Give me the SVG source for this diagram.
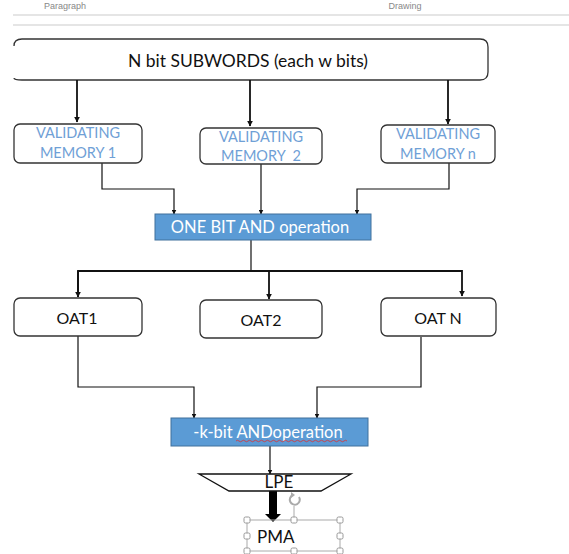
<svg xmlns="http://www.w3.org/2000/svg" width="569" height="554" viewBox="0 0 569 554">
<style>
.box{fill:#fff;stroke:#333;stroke-width:1.3}
.blue{fill:#5b9bd5;stroke:#41719c;stroke-width:1}
.t{font-family:Lato,"Open Sans","Liberation Sans",sans-serif;text-anchor:middle}
.vm{fill:#6fa0d6;font-size:14.5px}
.blk{fill:#111;font-size:16px}
.wht{fill:#fff;font-size:16.5px}
.c{fill:none;stroke:#111;stroke-width:1.2}
.ck{fill:none;stroke:#111;stroke-width:1.8}
.h{fill:#fff;stroke:#999;stroke-width:1}
</style>
<defs>
<marker id="a" viewBox="0 0 10 10" refX="9" refY="5" markerWidth="5" markerHeight="5" orient="auto" markerUnits="userSpaceOnUse"><path d="M0,0 L10,5 L0,10 z" fill="#111"/></marker>
<marker id="a2" viewBox="0 0 10 10" refX="9" refY="5" markerWidth="6" markerHeight="6" orient="auto" markerUnits="userSpaceOnUse"><path d="M0,0 L10,5 L0,10 z" fill="#111"/></marker>
</defs>
<g id="ribbon">
<text x="65" y="9" font-family="'Liberation Sans',sans-serif" font-size="9" fill="#888" text-anchor="middle">Paragraph</text>
<text x="405" y="9" font-family="'Liberation Sans',sans-serif" font-size="9" fill="#888" text-anchor="middle">Drawing</text>
<line x1="13" y1="15" x2="569" y2="15" stroke="#ddd" stroke-width="1.5"/>
<line x1="13" y1="25" x2="569" y2="25" stroke="#ddd" stroke-width="1.5"/>
</g>
<g id="subwords">
<path d="M14,46 Q14,39 22,39 H480 Q488,39 488,47 V72 Q488,80 480,80 H22 Q14,80 14,78" fill="#fff" stroke="#333" stroke-width="1.3"/>
<text class="t" x="248" y="67" font-size="18" fill="#111" textLength="240" lengthAdjust="spacingAndGlyphs">N bit SUBWORDS (each w bits)</text>
</g>
<g id="connectors">
<line class="ck" x1="77" y1="80" x2="77" y2="122" marker-end="url(#a2)"/>
<line class="ck" x1="250" y1="80" x2="250" y2="126" marker-end="url(#a2)"/>
<line class="ck" x1="448" y1="80" x2="448" y2="124" marker-end="url(#a2)"/>
<polyline class="c" points="102,163 102,189 174,189 174,214" marker-end="url(#a)"/>
<line class="c" x1="261" y1="164" x2="261" y2="214" marker-end="url(#a)"/>
<polyline class="c" points="449,163 449,189 357,189 357,214" marker-end="url(#a)"/>
<polyline class="c" points="251,240 251,271"/>
<polyline class="ck" points="78,297 78,271 462,271 462,296" marker-end="url(#a2)"/>
<line class="ck" x1="78" y1="271" x2="78" y2="297" marker-end="url(#a2)"/>
<line class="ck" x1="269" y1="271" x2="269" y2="299" marker-end="url(#a2)"/>
<polyline class="c" points="78,336 78,387 194,387 194,418" marker-end="url(#a)"/>
<polyline class="c" points="421,337 421,387 317,387 317,418" marker-end="url(#a)"/>
<line class="c" x1="270" y1="446" x2="270" y2="474" marker-end="url(#a)"/>
<path d="M269,491 H277 V514 H281 L273,522 L265,514 H269 Z" fill="#000"/>
</g>
<g id="vm1">
<rect class="box" x="14" y="124" width="128" height="39" rx="6"/>
<text class="t vm" x="78" y="138">VALIDATING</text>
<text class="t vm" x="78" y="158">MEMORY 1</text>
</g>
<g id="vm2">
<rect class="box" x="200" y="128" width="122" height="36" rx="6"/>
<text class="t vm" x="261" y="142">VALIDATING</text>
<text class="t vm" x="261" y="161" style="white-space:pre">MEMORY  2</text>
</g>
<g id="vmn">
<rect class="box" x="381" y="125" width="114" height="38" rx="6"/>
<text class="t vm" x="438" y="139">VALIDATING</text>
<text class="t vm" x="438" y="159">MEMORY n</text>
</g>
<g id="onebit">
<rect class="blue" x="155" y="214" width="216" height="26"/>
<text class="t wht" x="260" y="233">ONE BIT AND operation</text>
</g>
<g id="oat1">
<rect class="box" x="14" y="298" width="128" height="38" rx="6"/>
<text class="t blk" x="77" y="324">OAT1</text>
</g>
<g id="oat2">
<rect class="box" x="200" y="300" width="122" height="38" rx="6"/>
<text class="t blk" x="261" y="326">OAT2</text>
</g>
<g id="oatn">
<rect class="box" x="381" y="298" width="115" height="38" rx="6"/>
<text class="t blk" x="438" y="324">OAT N</text>
</g>
<g id="kbit">
<rect class="blue" x="171" y="418" width="197" height="28"/>
<text class="t wht" x="268" y="438">-k-bit ANDoperation</text>
<path d="M236,441 q1.5,-1.5 3,0 t3,0 t3,0 t3,0 t3,0 t3,0 t3,0 t3,0 t3,0 t3,0 t3,0 t3,0 t3,0 t3,0 t3,0 t3,0 t3,0 t3,0 t3,0 t3,0 t3,0 t3,0 t3,0 t3,0 t3,0 t3,0 t3,0 t3,0 t3,0 t3,0 t3,0 t3,0 t3,0 t3,0 t3,0 t3,0 t3,0" fill="none" stroke="#e03030" stroke-width="0.8"/>
</g>
<g id="lpe">
<polygon points="199,474 351,474 321,491 229,491" fill="#fff" stroke="#111" stroke-width="1.3"/>
<text x="279" y="488" font-family="Lato,'Open Sans','Liberation Sans',sans-serif" font-size="17" fill="#111" text-anchor="middle">LPE</text>
</g>
<g id="pma">
<rect x="247" y="520" width="93" height="31" fill="none" stroke="#aaa" stroke-width="1"/>
<line x1="294" y1="506" x2="294" y2="520" stroke="#aaa" stroke-width="1"/>
<path d="M299,497 A5,5 0 1 1 293,495" fill="none" stroke="#aaa" stroke-width="2"/>
<path d="M291,492 L295,495 L291,498 z" fill="#aaa"/>
<text x="257" y="543" font-family="Lato,'Open Sans','Liberation Sans',sans-serif" font-size="17" fill="#111">PMA</text>
<rect class="h" x="244" y="517" width="6" height="6" rx="1.5"/>
<rect class="h" x="291" y="517" width="6" height="6" rx="1.5"/>
<rect class="h" x="337" y="517" width="6" height="6" rx="1.5"/>
<rect class="h" x="244" y="533" width="6" height="6" rx="1.5"/>
<rect class="h" x="337" y="533" width="6" height="6" rx="1.5"/>
<rect class="h" x="244" y="548" width="6" height="6" rx="1.5"/>
<rect class="h" x="291" y="548" width="6" height="6" rx="1.5"/>
<rect class="h" x="337" y="548" width="6" height="6" rx="1.5"/>
</g>
</svg>
